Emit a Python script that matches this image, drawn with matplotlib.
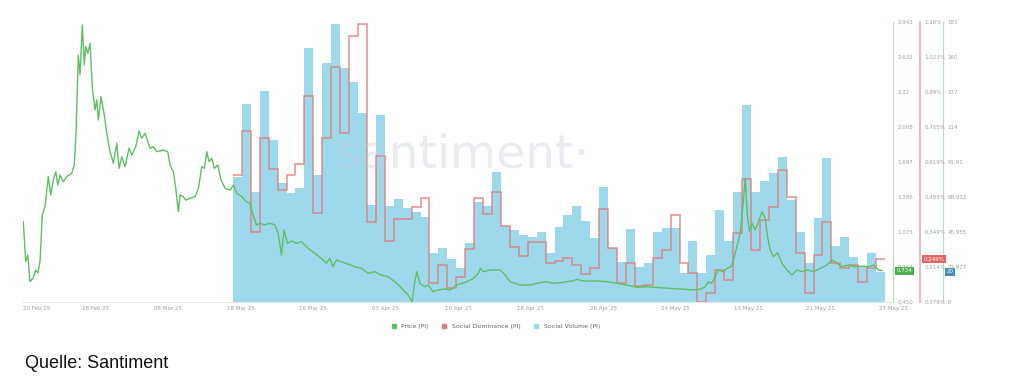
import numpy as np
import matplotlib.pyplot as plt
from matplotlib.lines import Line2D
from matplotlib.transforms import blended_transform_factory

# days counted from 20 Feb 25
# daily social volume, 16 Mar .. 27 May
vol = [82.1, 130.0, 72.2, 138.5, 106.3, 78.1, 71.5, 74.8, 166.7, 83.4,
       156.9, 182.5, 153.6, 144.4, 124.1, 63.7, 122.7, 63.0, 67.6, 61.7,
       59.1, 55.8, 32.2, 35.4, 28.2, 22.3, 38.7, 65.6, 63.0, 85.3,
       49.9, 47.3, 44.0, 42.7, 45.9, 32.2, 49.2, 57.1, 63.0, 53.2,
       42.0, 75.5, 35.4, 26.3, 47.9, 23.0, 25.6, 45.9, 48.6, 48.6,
       19.0, 40.0, 19.0, 30.9, 60.4, 40.0, 72.2, 129.3, 72.2, 79.4,
       84.7, 95.2, 67.0, 45.9, 25.6, 55.1, 94.5, 36.8, 42.7, 29.5,
       23.6, 32.2, 19.7]

# social dominance in %
dom = [0.569, 0.739, 0.349, 0.712, 0.593, 0.511, 0.569, 0.612, 0.874, 0.423,
       0.712, 0.986, 0.732, 1.106, 1.152, 0.388, 0.643, 0.314, 0.399, 0.399,
       0.446, 0.481, 0.152, 0.222, 0.133, 0.176, 0.284, 0.481, 0.419, 0.504,
       0.372, 0.291, 0.257, 0.311, 0.311, 0.230, 0.237, 0.249, 0.222, 0.187,
       0.210, 0.438, 0.287, 0.152, 0.230, 0.141, 0.145, 0.249, 0.280, 0.415,
       0.230, 0.191, 0.080, 0.114, 0.203, 0.164, 0.345, 0.554, 0.280, 0.396,
       0.446, 0.589, 0.484, 0.268, 0.114, 0.260, 0.388, 0.230, 0.210, 0.222,
       0.156, 0.210, 0.245]

price_day = [0.03, 0.30, 0.53, 0.78, 1.15, 1.42, 1.65, 1.90, 2.16, 2.46,
             2.83, 3.10, 3.39, 3.66, 3.89, 4.14, 4.51, 4.89, 5.45, 5.74,
             5.94, 6.19, 6.38, 6.64, 6.86, 7.02, 7.25, 7.50, 7.76, 8.06,
             8.25, 8.43, 8.73, 9.10, 9.37, 9.74, 10.11, 10.49, 10.75, 11.05,
             11.42, 11.87, 12.17, 12.62, 12.99, 13.29, 13.66, 14.22, 14.59, 14.97,
             15.71, 16.20, 16.46, 16.83, 17.10, 17.39, 17.58, 17.95, 18.22, 18.70,
             19.26, 19.63, 20.01, 20.30, 20.57, 20.83, 21.13, 21.42, 21.80, 22.17,
             22.62, 23.18, 23.55, 23.93, 24.49, 25.01, 25.39, 25.76, 26.13, 26.51,
             27.07, 27.63, 28.19, 28.56, 28.93, 29.23, 29.60, 30.05, 30.60, 31.16,
             31.91, 32.67, 33.40, 33.96, 34.34, 34.71, 35.08, 35.64, 36.39, 37.14,
             37.88, 38.63, 39.38, 40.12, 40.87, 41.62, 42.36, 43.11, 43.56, 43.86,
             44.09, 44.42, 44.98, 45.35, 45.91, 46.47, 47.22, 47.82, 48.57, 49.69,
             50.43, 50.99, 51.18, 51.55, 52.30, 53.42, 53.98, 54.54, 55.66, 56.77,
             57.53, 58.64, 59.38, 60.50, 61.62, 62.00, 62.74, 64.24, 65.36, 66.48,
             67.60, 68.72, 69.84, 71.33, 73.57, 75.06, 75.81, 76.37, 76.74, 77.12,
             77.49, 77.86, 78.42, 78.80, 79.25, 79.54, 79.92, 80.29, 80.66, 80.85,
             81.11, 81.33, 81.60, 81.97, 82.34, 82.72, 83.09, 83.35, 83.65, 84.02,
             84.47, 84.96, 85.52, 86.08, 86.64, 87.20, 87.76, 88.50, 89.25, 90.00,
             90.56, 91.12, 91.68, 92.42, 93.17, 93.92, 94.66, 95.22, 95.78, 96.16]

price = [1.165, 0.809, 0.868, 0.631, 0.664, 0.735, 0.708, 0.809, 1.225, 1.299,
         1.566, 1.403, 1.536, 1.610, 1.492, 1.581, 1.521, 1.566, 1.596, 1.670,
         1.966, 2.649, 2.471, 2.916, 2.560, 2.723, 2.664, 2.753, 2.353, 2.160,
         2.249, 2.070, 2.278, 2.115, 1.952, 1.788, 1.685, 1.863, 1.640, 1.744,
         1.655, 1.819, 1.759, 1.833, 1.973, 1.908, 1.952, 1.819, 1.833, 1.788,
         1.803, 1.788, 1.670, 1.610, 1.462, 1.254, 1.403, 1.388, 1.358, 1.373,
         1.388, 1.462, 1.655, 1.640, 1.788, 1.699, 1.729, 1.640, 1.670, 1.536,
         1.462, 1.447, 1.492, 1.418, 1.388, 1.343, 1.329, 1.225, 1.136, 1.151,
         1.136, 1.151, 1.136, 1.062, 0.868, 1.091, 0.973, 0.993, 0.973, 0.987,
         0.928, 0.884, 0.839, 0.795, 0.839, 0.764, 0.824, 0.809, 0.786, 0.764,
         0.750, 0.706, 0.720, 0.690, 0.675, 0.631, 0.577, 0.512, 0.450, 0.631,
         0.720, 0.617, 0.586, 0.601, 0.542, 0.557, 0.566, 0.557, 0.601, 0.631,
         0.661, 0.706, 0.750, 0.720, 0.735, 0.735, 0.690, 0.631, 0.601, 0.601,
         0.617, 0.631, 0.617, 0.625, 0.640, 0.652, 0.637, 0.637, 0.631, 0.617,
         0.601, 0.581, 0.586, 0.577, 0.566, 0.557, 0.563, 0.586, 0.631, 0.617,
         0.675, 0.735, 0.720, 0.750, 0.764, 0.824, 0.942, 1.062, 1.358, 1.551,
         1.210, 1.076, 1.151, 1.091, 1.165, 1.254, 1.195, 1.031, 0.913, 0.853,
         0.889, 0.795, 0.735, 0.690, 0.735, 0.720, 0.735, 0.720, 0.750, 0.779,
         0.824, 0.795, 0.764, 0.779, 0.764, 0.770, 0.764, 0.779, 0.735, 0.729]

x_labels = ["20 Feb 25", "28 Feb 25", "08 Mar 25", "18 Mar 25", "26 Mar 25",
            "03 Apr 25", "10 Apr 25", "18 Apr 25", "26 Apr 25", "04 May 25",
            "13 May 25", "21 May 25", "27 May 25"]
price_labels = ["0.450", "0.763", "1.075", "1.386", "1.697", "2.008", "2.32", "2.632", "2.943"]
dom_labels = ["0.079%", "0.214%", "0.349%", "0.485%", "0.619%", "0.755%", "0.89%", "1.023%", "1.16%"]
vol_labels = ["0", "22.977", "45.955", "68.932", "91.91", "114", "137", "160", "183"]

first_bar = 24  # 16 Mar
bar_day = np.arange(first_bar, first_bar + len(vol))
edges = np.append(bar_day - 0.5, bar_day[-1] + 0.5)

c_vol = "#9dd9eb"
c_dom = "#e07b7b"
c_price = "#5fbf63"
grey = "#a0a0a0"
x_end = 97.4

fig = plt.figure(figsize=(10.24, 3.86), dpi=100)
ax = fig.add_axes([0.0225, 0.2176, 0.8496, 0.7254])
ax.bar(bar_day, vol, width=1.0, color=c_vol, linewidth=0)
ax.set_xlim(0, x_end)
ax.set_ylim(0, 183.8)

ax2 = ax.twinx()
ax2.stairs(dom, edges, baseline=None, color=c_dom, lw=1.1, alpha=0.85)
ax2.set_ylim(0.079, 1.16)

ax3 = ax.twinx()
ax3.plot(price_day, price, color=c_price, lw=1.0)
ax3.set_ylim(0.450, 2.943)

for a in (ax, ax2, ax3):
    for s in ("top", "left", "bottom"):
        a.spines[s].set_visible(False)
    a.yaxis.tick_right()
    a.tick_params(axis="y", length=0, pad=3, labelsize=4, labelcolor=grey)

ax.spines["bottom"].set_visible(True)
ax.spines["bottom"].set_color("#e6e6e6")
ax.spines["bottom"].set_linewidth(0.8)

ax3.spines["right"].set_position(("axes", 1.0))
ax3.spines["right"].set_color("#b9ddb9")
ax2.spines["right"].set_position(("axes", 1.031))
ax2.spines["right"].set_color("#e7b8b8")
ax2.spines["right"].set_linewidth(1.3)
ax.spines["right"].set_position(("axes", 1.0575))
ax.spines["right"].set_color("#b5d8d8")

ax3.set_yticks(np.linspace(0.450, 2.943, 9), price_labels)
ax2.set_yticks(np.linspace(0.079, 1.16, 9), dom_labels)
ax.set_yticks(np.linspace(0, 183.8, 9), vol_labels)

ax.set_xticks(np.linspace(0, x_end, 13), x_labels)
ax.tick_params(axis="x", length=0, pad=3, labelsize=4, labelcolor=grey)
ax.get_xticklabels()[0].set_ha("left")

# current value markers
box = dict(boxstyle="square,pad=0.25", linewidth=0)
ax3.text(1.004, price[-1], "0.734", transform=blended_transform_factory(ax3.transAxes, ax3.transData),
         fontsize=4, color="white", va="center", ha="left", bbox=dict(box, facecolor="#4caf50"))
ax2.text(1.035, dom[-1], "0.249%", transform=blended_transform_factory(ax2.transAxes, ax2.transData),
         fontsize=4, color="white", va="center", ha="left", bbox=dict(box, facecolor="#e06666"))
ax.text(1.0615, vol[-1], "20", transform=blended_transform_factory(ax.transAxes, ax.transData),
        fontsize=4, color="white", va="center", ha="left", bbox=dict(box, facecolor="#4b8cbf"))

# watermark
ax3.text(0.505, 0.525, "santiment·", transform=ax3.transAxes, fontsize=34,
         color="#c8c8dc", alpha=0.35, ha="center", va="center", zorder=0)

handles = [Line2D([], [], marker="s", ls="none", ms=3, color=c) for c in (c_price, c_dom, c_vol)]
fig.legend(handles, ["Price (PI)", "Social Dominance (PI)", "Social Volume (PI)"],
           loc="center", bbox_to_anchor=(0.482, 0.155), ncol=3, frameon=False,
           fontsize=4.5, labelcolor="#666666", handletextpad=0.2, columnspacing=1.5)

fig.text(25 / 1024, 1 - 363 / 386, "Quelle: Santiment", fontsize=13,
         family="Liberation Sans", va="center", ha="left", color="#111111")

fig.savefig("out.png", dpi=100)
